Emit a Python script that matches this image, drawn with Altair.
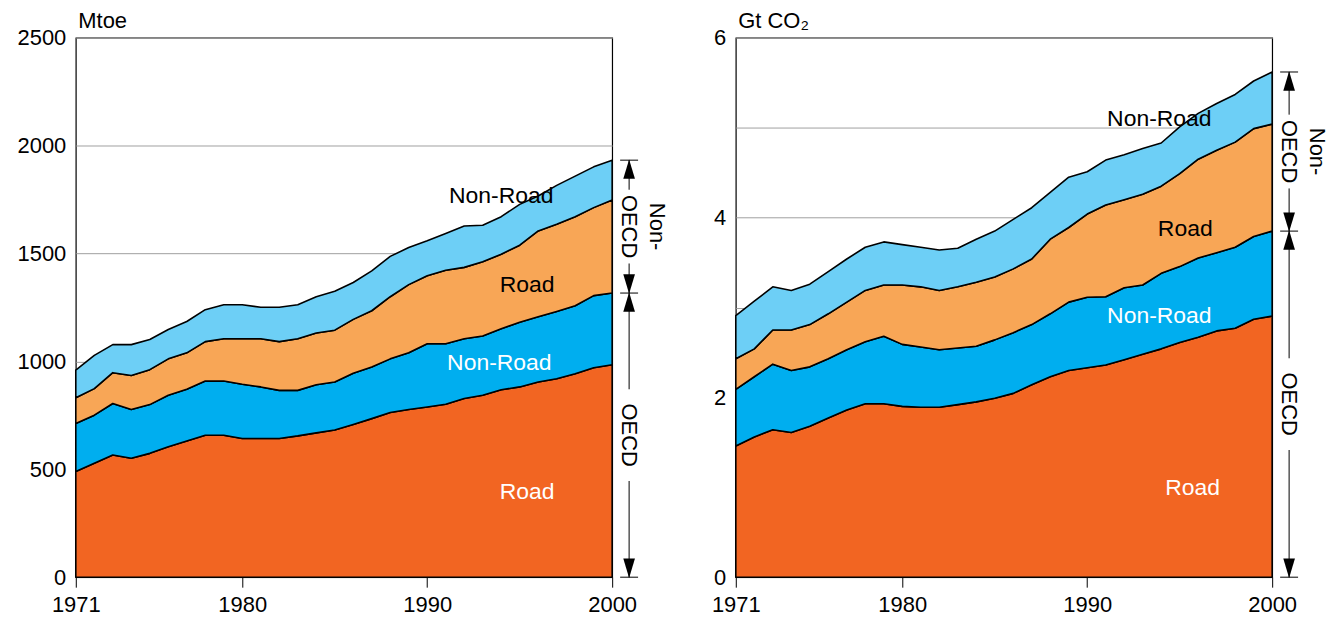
import altair as alt
import pandas as pd

years = list(range(1971, 2001))

# Left panel: transport energy use, Mtoe
energy_oecd_road = [490, 528, 566, 551, 574, 605, 631, 658, 658, 643, 643, 643, 655, 669, 682,
                    708, 735, 763, 777, 789, 802, 828, 843, 869, 882, 905, 920, 943, 971, 985]
energy_oecd_nonroad = [222, 223, 239, 226, 226, 238, 240, 251, 251, 251, 239, 223, 211, 223, 223,
                       237, 239, 249, 263, 293, 280, 277, 275, 282, 300, 302, 312, 315, 334, 332]
energy_non_road = [120, 123, 143, 158, 162, 169, 169, 183, 196, 211, 223, 226, 239, 240, 240,
                   250, 261, 288, 316, 315, 341, 331, 344, 346, 357, 398, 404, 413, 408, 431]
energy_non_nonroad = [128, 154, 130, 143, 140, 136, 145, 148, 158, 158, 146, 159, 158, 168, 180,
                      171, 185, 187, 172, 162, 170, 192, 169, 174, 189, 162, 180, 188, 189, 185]

# Right panel: transport CO2 emissions, Gt CO2
co2_oecd_road = [1.46, 1.56, 1.64, 1.61, 1.68, 1.77, 1.86, 1.93, 1.93, 1.90, 1.89, 1.89, 1.92, 1.95, 1.99,
                 2.045, 2.14, 2.23, 2.30, 2.33, 2.36, 2.42, 2.48, 2.54, 2.61, 2.67, 2.74, 2.77, 2.87, 2.905]
co2_oecd_nonroad = [0.63, 0.67, 0.73, 0.69, 0.66, 0.66, 0.67, 0.69, 0.75, 0.69, 0.67, 0.64, 0.63, 0.62, 0.65,
                    0.675, 0.67, 0.70, 0.76, 0.785, 0.76, 0.80, 0.77, 0.84, 0.845, 0.88, 0.87, 0.90, 0.92, 0.945]
co2_non_road = [0.34, 0.31, 0.38, 0.45, 0.47, 0.50, 0.53, 0.57, 0.57, 0.66, 0.67, 0.66, 0.68, 0.71, 0.70,
                0.71, 0.73, 0.83, 0.83, 0.925, 1.02, 0.98, 1.01, 0.97, 1.035, 1.10, 1.14, 1.17, 1.20, 1.19]
co2_non_nonroad = [0.48, 0.53, 0.48, 0.44, 0.45, 0.47, 0.48, 0.48, 0.48, 0.45, 0.44, 0.45, 0.43, 0.48, 0.51,
                   0.55, 0.57, 0.52, 0.56, 0.47, 0.50, 0.50, 0.51, 0.48, 0.52, 0.51, 0.52, 0.53, 0.53, 0.58]

series_names = ["OECD Road", "OECD Non-Road", "Non-OECD Road", "Non-OECD Non-Road"]
series_colors = ["#F26522", "#00AEEF", "#F8A656", "#6DCFF6"]
x_ticks = [1971, 1980, 1990, 2000]

# in-area labels: (year, value, text, colour)
energy_labels = [(1995.4, 397, "Road", "white"), (1993.9, 994, "Non-Road", "white"),
                 (1995.4, 1354, "Road", "black"), (1994.0, 1765, "Non-Road", "black")]
co2_labels = [(1995.7, 0.99, "Road", "white"), (1993.9, 2.90, "Non-Road", "white"),
              (1995.3, 3.87, "Road", "black"), (1993.9, 5.10, "Non-Road", "black")]

FONT = "Liberation Sans"
W, H = 538, 541
UP = "M0,-1L0.6,1L-0.6,1Z"
DOWN = "M0,1L0.6,-1L-0.6,-1Z"


def panel(series_values, ymax, yvalues, label_expr, title, labels):
    rows = []
    for k, (name, vals) in enumerate(zip(series_names, series_values)):
        for yr, v in zip(years, vals):
            rows.append({"year": yr, "value": v, "series": name, "ord": k})
    df = pd.DataFrame(rows)

    x_scale = alt.Scale(domain=[1971, 2000], nice=False, zero=False)
    x_axis = alt.Axis(values=x_ticks, format="d", title=None, grid=False, domain=False,
                      tickSize=10, tickColor="black", labelPadding=7, labelFlush=False)
    axis_kw = dict(values=yvalues, format="d", title=title, titleAngle=0, titleX=2, titleY=-10,
                   titleAlign="left", titleBaseline="alphabetic", ticks=False, domain=False,
                   labelPadding=10, grid=True, gridColor="#a0a0a0", gridWidth=1)
    if label_expr:
        axis_kw["labelExpr"] = label_expr
    y_axis = alt.Axis(**axis_kw)
    y_scale = alt.Scale(domain=[0, ymax], nice=False)

    def yenc(stack=None):
        return alt.Y("value:Q", stack=stack, scale=y_scale, axis=y_axis, title=title)

    area = alt.Chart(df).mark_area(stroke="black", strokeWidth=1.6, strokeJoin="round").encode(
        x=alt.X("year:Q", scale=x_scale, axis=x_axis),
        y=yenc("zero"),
        color=alt.Color("series:N", scale=alt.Scale(domain=series_names, range=series_colors),
                        legend=None),
        order=alt.Order("ord:Q"),
    )

    lab_df = pd.DataFrame(labels, columns=["year", "value", "text", "col"])
    texts = alt.Chart(lab_df).mark_text(font=FONT, fontSize=23, align="center",
                                        baseline="middle").encode(
        x=alt.X("year:Q", scale=x_scale, axis=x_axis),
        y=yenc(),
        text="text:N",
        color=alt.Color("col:N", scale=None),
    )

    # bracket annotations derived from the data at year 2000
    oecd = series_values[0][-1] + series_values[1][-1]
    total = oecd + series_values[2][-1] + series_values[3][-1]
    mid_up = (oecd + total) / 2
    mid_low = oecd / 2
    g_up = 37 * ymax / H
    g_low = 46 * ymax / H

    caps = alt.Chart(pd.DataFrame({"value": [0, oecd, total]})).mark_rule(
        color="black", strokeWidth=1).encode(
        y=yenc(), x=alt.value(W + 8), x2=alt.value(W + 26))

    segs = pd.DataFrame({"value": [total, mid_up - g_up, oecd, mid_low - g_low],
                         "value2": [mid_up + g_up, oecd, mid_low + g_low, 0]})
    lines = alt.Chart(segs).mark_rule(color="black", strokeWidth=1).encode(
        y=yenc(), y2="value2:Q", x=alt.value(W + 17))

    up_arrows = alt.Chart(pd.DataFrame({"value": [total, oecd]})).mark_point(
        shape=UP, filled=True, color="black", size=380, opacity=1, yOffset=9).encode(
        y=yenc(), x=alt.value(W + 17))
    down_arrows = alt.Chart(pd.DataFrame({"value": [oecd, 0]})).mark_point(
        shape=DOWN, filled=True, color="black", size=380, opacity=1, yOffset=-9).encode(
        y=yenc(), x=alt.value(W + 17))

    oecd_txt = alt.Chart(pd.DataFrame({"value": [mid_up, mid_low], "t": ["OECD", "OECD"]})).mark_text(
        font=FONT, fontSize=22, angle=90, align="center", baseline="middle", color="black").encode(
        y=yenc(), x=alt.value(W + 17), text="t:N")
    non_txt = alt.Chart(pd.DataFrame({"value": [mid_up], "t": ["Non-"]})).mark_text(
        font=FONT, fontSize=22, angle=90, align="center", baseline="middle", color="black").encode(
        y=yenc(), x=alt.value(W + 45), text="t:N")

    return alt.layer(area, texts, caps, lines, up_arrows, down_arrows, oecd_txt, non_txt).properties(
        width=W, height=H)


left = panel([energy_oecd_road, energy_oecd_nonroad, energy_non_road, energy_non_nonroad],
             2500, [0, 500, 1000, 1500, 2000, 2500], None, "Mtoe", energy_labels)
right = panel([co2_oecd_road, co2_oecd_nonroad, co2_non_road, co2_non_nonroad],
              6, [0, 1, 2, 3, 4, 5, 6], "datum.value % 2 === 0 ? datum.label : ''", "Gt CO₂",
              co2_labels)

chart = alt.hconcat(left, right, spacing=41).configure_view(
    stroke="black", strokeWidth=1.2
).configure_axis(
    labelFont=FONT, labelFontSize=22, labelColor="black",
    titleFont=FONT, titleFontSize=22, titleColor="black", titleFontWeight="normal"
).properties(padding={"left": 8, "top": 0, "right": 0, "bottom": 0}, background="white")

chart.save("out.html", embed_options={"renderer": "svg", "actions": False})
